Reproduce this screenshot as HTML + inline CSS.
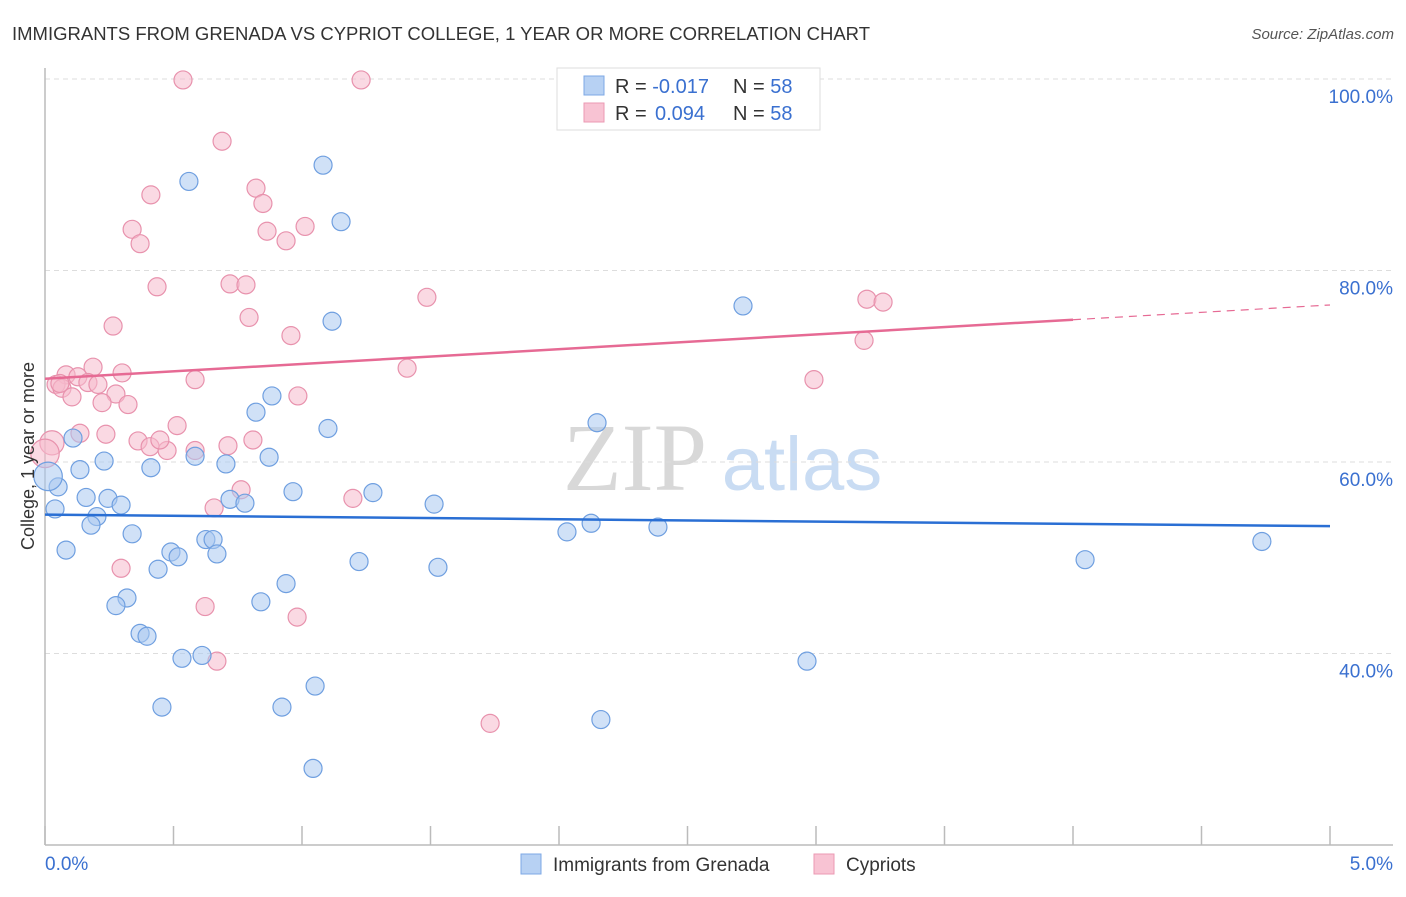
<!DOCTYPE html>
<html><head><meta charset="utf-8"><style>
body{margin:0;background:#fff;font-family:"Liberation Sans",sans-serif}
svg text{font-family:"Liberation Sans",sans-serif}
</style></head><body>
<svg id="c" width="1406" height="892" xmlns="http://www.w3.org/2000/svg">
<text x="12" y="40" font-size="18.5" fill="#333">IMMIGRANTS FROM GRENADA VS CYPRIOT COLLEGE, 1 YEAR OR MORE CORRELATION CHART</text>
<text x="1394" y="39" font-size="15" fill="#555" font-style="italic" text-anchor="end">Source: ZipAtlas.com</text>
<g>
<text x="635" y="490" font-size="96" fill="#d8d8d8" font-family="Liberation Serif" text-anchor="middle" style="font-family:'Liberation Serif',serif">ZIP</text>
<text x="802" y="490" font-size="76" fill="#c9dcf3" text-anchor="middle">atlas</text>
</g>
<g id="grid"></g>
<g id="axes"></g>
<g id="pts"></g>
<g id="lines"></g>
<text transform="translate(34,456) rotate(-90)" font-size="18" fill="#333" text-anchor="middle">College, 1 year or more</text>
<g>
<rect x="557" y="68" width="263" height="62" fill="#fff" stroke="#ddd"/>
<rect x="584" y="76" width="20" height="19" fill="#b7d1f3" stroke="#7ea8e6"/>
<rect x="584" y="103" width="20" height="19" fill="#f8c3d3" stroke="#eb9ab3"/>
<text x="615" y="93" font-size="20" fill="#333">R = <tspan fill="#3a70d0">-0.017</tspan><tspan x="733">N = </tspan><tspan fill="#3a70d0">58</tspan></text>
<text x="615" y="120" font-size="20" fill="#333">R = <tspan fill="#3a70d0" x="655">0.094</tspan><tspan x="733">N = </tspan><tspan fill="#3a70d0">58</tspan></text>
</g>
<g>
<rect x="521" y="854" width="20" height="20" fill="#b7d1f3" stroke="#7ea8e6"/>
<text x="553" y="871" font-size="19" fill="#333">Immigrants from Grenada</text>
<rect x="814" y="854" width="20" height="20" fill="#f8c3d3" stroke="#eb9ab3"/>
<text x="846" y="871" font-size="19" fill="#333">Cypriots</text>
</g>
</svg>
<script>
const xTicks=[0,0.5,1,1.5,2,2.5,3,3.5,4,4.5,5];
const yTicks=[40,60,80,100];
const yTickLabels=["40.0%","60.0%","80.0%","100.0%"];
const blueX=[0.560,1.082,1.152,1.117,2.716,0.821,0.883,1.101,2.148,0.584,0.704,0.872,0.230,0.136,0.412,0.109,0.051,0.039,0.160,0.245,0.296,0.202,0.179,0.339,0.965,1.276,1.514,0.720,0.778,0.626,0.654,0.490,0.518,0.669,0.440,0.082,1.222,1.529,2.031,2.125,2.385,4.047,4.735,0.938,0.319,0.276,0.840,0.370,0.397,0.533,0.611,2.965,1.051,0.455,0.922,2.163,1.043,0.012];
const blueY=[89.3,91.0,85.1,74.7,76.3,65.2,66.9,63.5,64.1,60.6,59.8,60.5,60.1,59.2,59.4,62.5,57.4,55.1,56.3,56.2,55.5,54.3,53.4,52.5,56.9,56.8,55.6,56.1,55.7,51.9,51.9,50.6,50.1,50.4,48.8,50.8,49.6,49.0,52.7,53.6,53.2,49.8,51.7,47.3,45.8,45.0,45.4,42.1,41.8,39.5,39.8,39.2,36.6,34.4,34.4,33.1,28.0,58.5];
const blueW=[1,1,1,1,1,1,1,1,1,1,1,1,1,1,1,1,1,1,1,1,1,1,1,1,1,1,1,1,1,1,1,1,1,1,1,1,1,1,1,1,1,1,1,1,1,1,1,1,1,1,1,1,1,1,1,1,1,2.5];
const pinkX=[0.537,1.230,0.689,0.412,0.821,0.848,0.339,0.370,0.864,0.938,1.012,0.436,0.720,0.782,1.486,0.265,0.794,0.957,3.198,3.261,3.187,0.187,0.300,1.409,0.584,2.992,0.082,0.128,0.167,0.206,0.043,0.066,0.105,0.276,0.222,0.323,0.984,0.514,0.136,0.237,0.362,0.409,0.475,0.584,0.712,0.809,0.027,0.000,0.763,0.658,1.198,0.296,0.623,0.981,0.669,1.732,0.058,0.447];
const pinkY=[99.9,99.9,93.5,87.9,88.6,87.0,84.3,82.8,84.1,83.1,84.6,78.3,78.6,78.5,77.2,74.2,75.1,73.2,77.0,76.7,72.7,69.9,69.3,69.8,68.6,68.6,69.1,68.9,68.3,68.1,68.1,67.7,66.8,67.1,66.2,66.0,66.9,63.8,63.0,62.9,62.2,61.6,61.2,61.2,61.7,62.3,62.0,60.9,57.1,55.2,56.2,48.9,44.9,43.8,39.2,32.7,68.2,62.3];
const pinkW=[1,1,1,1,1,1,1,1,1,1,1,1,1,1,1,1,1,1,1,1,1,1,1,1,1,1,1,1,1,1,1,1,1,1,1,1,1,1,1,1,1,1,1,1,1,1,1.8,2.5,1,1,1,1,1,1,1,1,1,1];
const blueTrend=[54.5,53.3];
const pinkTrend=[68.7,76.4];
const pinkSolidEnd=4.0;
const X=v=>45+v/5*1285;
const Y=v=>79+(100-v)*9.575;
const NS="http://www.w3.org/2000/svg";
function mk(parent,tag,attrs){const e=document.createElementNS(NS,tag);for(const k in attrs)e.setAttribute(k,attrs[k]);document.getElementById(parent).appendChild(e);return e;}
yTicks.forEach((t,i)=>{
 const g=mk('grid','line',{x1:45,x2:1393,y1:Y(t),y2:Y(t),stroke:'#ddd','stroke-dasharray':'5,4'});
 
 
 const l=mk('grid','text',{x:1393,y:Y(t)+24,'font-size':19,fill:'#3a70d0','text-anchor':'end'});
 l.textContent=yTickLabels[i];
 
 
});
const ya=mk('axes','line',{x1:45,x2:45,y1:68,y2:845,stroke:'#bbb','stroke-width':1.5});


const xa=mk('axes','line',{x1:45,x2:1393,y1:845,y2:845,stroke:'#bbb','stroke-width':1.5});


xTicks.forEach(t=>{
 const k=mk('axes','line',{x1:X(t),x2:X(t),y1:826,y2:845,stroke:'#bbb','stroke-width':1.5});
 
 
});
const x0=mk('axes','text',{x:45,y:870,'font-size':19,fill:'#3a70d0'});x0.textContent='0.0%';


const x1=mk('axes','text',{x:1393,y:870,'font-size':19,fill:'#3a70d0','text-anchor':'end'});x1.textContent='5.0%';


function pts(xs,ys,ws,fill,stroke,name){
 xs.forEach((x,i)=>{
  const c=mk('pts','circle',{cx:X(x),cy:Y(ys[i]),r:9*Math.sqrt(ws[i]),fill:fill,'fill-opacity':0.55,stroke:stroke,'stroke-width':1.2});
  
  
 });
}
pts(pinkX,pinkY,pinkW,'#f6b9cc','#e892ad','cypriots-point');
pts(blueX,blueY,blueW,'#aac8f0','#6f9fe0','grenada-point');
const bl=mk('lines','line',{x1:X(0),y1:Y(blueTrend[0]),x2:X(5),y2:Y(blueTrend[1]),stroke:'#2a6fd4','stroke-width':2.5});


const pm=pinkTrend[0]+(pinkTrend[1]-pinkTrend[0])*pinkSolidEnd/5;
const pl=mk('lines','line',{x1:X(0),y1:Y(pinkTrend[0]),x2:X(pinkSolidEnd),y2:Y(pm),stroke:'#e66a94','stroke-width':2.5});


const pd=mk('lines','line',{x1:X(pinkSolidEnd),y1:Y(pm),x2:X(5),y2:Y(pinkTrend[1]),stroke:'#e66a94','stroke-width':1.2,'stroke-dasharray':'8,6'});


</script>
</body></html>
